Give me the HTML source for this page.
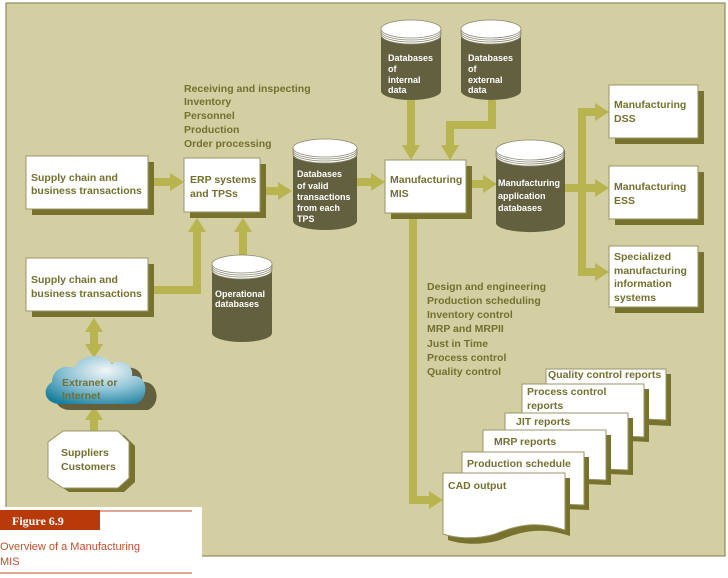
<!DOCTYPE html>
<html><head><meta charset="utf-8"><style>
html,body{margin:0;padding:0;background:#fff;}
svg{display:block;font-family:"Liberation Sans",sans-serif;font-weight:bold;}
.t{fill:#737030;font-size:10.5px;}
.w{fill:#fff;font-size:9px;}
.a{fill:#b8b44f;}
</style></head><body>
<svg width="728" height="578" viewBox="0 0 728 578" xmlns="http://www.w3.org/2000/svg">
<defs>
<radialGradient id="cg" cx="0.6" cy="0.3" r="0.8">
<stop offset="0" stop-color="#f2f6f7"/><stop offset="0.5" stop-color="#8fc4d6"/><stop offset="1" stop-color="#1a7f9e"/>
</radialGradient>
</defs>
<rect x="6" y="3" width="719" height="553" fill="#d4cfa2" stroke="#8e8a60" stroke-width="1.2"/>

<!-- arrows -->
<g class="a">
<rect x="152" y="178" width="20" height="8"/><polygon points="170,173 184,182 170,191"/>
<rect x="266" y="187" width="14" height="8"/><polygon points="278,182 292,191 278,200"/>
<rect x="357" y="178" width="16" height="8"/><polygon points="371,173 385,182 371,191"/>
<rect x="470" y="180" width="15" height="8"/><polygon points="483,175 497,184 483,193"/>
<rect x="563" y="184" width="20" height="8"/>
<rect x="578" y="108" width="8" height="168"/>
<rect x="582" y="108" width="15" height="8"/><polygon points="595,103 609,112 595,121"/>
<rect x="582" y="184" width="15" height="8"/><polygon points="595,179 609,188 595,197"/>
<rect x="582" y="268" width="15" height="8"/><polygon points="595,263 609,272 595,281"/>
<rect x="407" y="100" width="8" height="47"/><polygon points="402,145 411,160 420,145"/>
<rect x="488" y="100" width="8" height="29"/><rect x="446" y="121" width="50" height="8"/><rect x="446" y="121" width="8" height="26"/><polygon points="441,145 450,160 459,145"/>
<rect x="409" y="213" width="8" height="291"/><rect x="409" y="496" width="22" height="8"/><polygon points="429,491 443,500 429,509"/>
<rect x="148" y="286" width="53" height="8"/><rect x="193" y="230" width="8" height="64"/><polygon points="188,232 197,218 206,232"/>
<rect x="239" y="230" width="8" height="30"/><polygon points="234,232 243,218 252,232"/><polygon points="234,258 243,272 252,258"/>
<rect x="90" y="330" width="8" height="16"/><polygon points="85,332 94,318 103,332"/><polygon points="85,344 94,358 103,344"/>
<rect x="90" y="418" width="8" height="14"/><polygon points="85,420 94,406 103,420"/>
</g>

<!-- boxes -->
<g>
<rect x="32" y="162" width="122" height="53" fill="#77722e"/><rect x="26" y="156" width="122" height="53" fill="#fff" stroke="#9a9668"/>
<text class="t" x="31" y="181">Supply chain and</text><text class="t" x="31" y="194">business transactions</text>
<rect x="32" y="264" width="122" height="53" fill="#77722e"/><rect x="26" y="258" width="122" height="53" fill="#fff" stroke="#9a9668"/>
<text class="t" x="31" y="283">Supply chain and</text><text class="t" x="31" y="297">business transactions</text>
<rect x="190" y="164" width="76" height="54" fill="#77722e"/><rect x="184" y="158" width="76" height="54" fill="#fff" stroke="#9a9668"/>
<text class="t" x="190" y="183">ERP systems</text><text class="t" x="190" y="197">and TPSs</text>
<rect x="391" y="166" width="81" height="53" fill="#77722e"/><rect x="385" y="160" width="81" height="53" fill="#fff" stroke="#9a9668"/>
<text class="t" x="390" y="183">Manufacturing</text><text class="t" x="390" y="197">MIS</text>
<rect x="615" y="91" width="89" height="53" fill="#77722e"/><rect x="609" y="85" width="89" height="53" fill="#fff" stroke="#9a9668"/>
<text class="t" x="614" y="108">Manufacturing</text><text class="t" x="614" y="122">DSS</text>
<rect x="615" y="172" width="89" height="53" fill="#77722e"/><rect x="609" y="166" width="89" height="53" fill="#fff" stroke="#9a9668"/>
<text class="t" x="614" y="190">Manufacturing</text><text class="t" x="614" y="204">ESS</text>
<rect x="615" y="252" width="89" height="61" fill="#77722e"/><rect x="609" y="246" width="89" height="61" fill="#fff" stroke="#9a9668"/>
<text class="t" x="614" y="260">Specialized</text><text class="t" x="614" y="274">manufacturing</text><text class="t" x="614" y="287">information</text><text class="t" x="614" y="301">systems</text>
</g>

<!-- cylinders -->
<g stroke="#8a8770" stroke-width="0.8">
<path d="M293,148 V221 A32,9 0 0 0 357,221 V148 Z" fill="#636040" stroke="none"/>
<ellipse cx="325" cy="154" rx="32" ry="9" fill="#fff"/><ellipse cx="325" cy="152" rx="32" ry="9" fill="#fff"/><ellipse cx="325" cy="150" rx="32" ry="9" fill="#fff"/><ellipse cx="325" cy="148" rx="32" ry="9" fill="#fff"/>
<path d="M212,264 V333 A30,9 0 0 0 272,333 V264 Z" fill="#636040" stroke="none"/>
<ellipse cx="242" cy="270" rx="30" ry="9" fill="#fff"/><ellipse cx="242" cy="268" rx="30" ry="9" fill="#fff"/><ellipse cx="242" cy="266" rx="30" ry="9" fill="#fff"/><ellipse cx="242" cy="264" rx="30" ry="9" fill="#fff"/>
<path d="M381,29 V91 A30,9 0 0 0 441,91 V29 Z" fill="#636040" stroke="none"/>
<ellipse cx="411" cy="35" rx="30" ry="9" fill="#fff"/><ellipse cx="411" cy="33" rx="30" ry="9" fill="#fff"/><ellipse cx="411" cy="31" rx="30" ry="9" fill="#fff"/><ellipse cx="411" cy="29" rx="30" ry="9" fill="#fff"/>
<path d="M461,29 V91 A30,9 0 0 0 521,91 V29 Z" fill="#636040" stroke="none"/>
<ellipse cx="491" cy="35" rx="30" ry="9" fill="#fff"/><ellipse cx="491" cy="33" rx="30" ry="9" fill="#fff"/><ellipse cx="491" cy="31" rx="30" ry="9" fill="#fff"/><ellipse cx="491" cy="29" rx="30" ry="9" fill="#fff"/>
<path d="M496,150 V223 A34,9 0 0 0 565,223 V150 Z" fill="#636040" stroke="none"/>
<ellipse cx="530" cy="156" rx="34" ry="10" fill="#fff"/><ellipse cx="530" cy="154" rx="34" ry="10" fill="#fff"/><ellipse cx="530" cy="152" rx="34" ry="10" fill="#fff"/><ellipse cx="530" cy="150" rx="34" ry="10" fill="#fff"/>
</g>
<g class="w">
<text x="297" y="177">Databases</text><text x="297" y="189">of valid</text><text x="297" y="200">transactions</text><text x="297" y="211">from each</text><text x="297" y="222">TPS</text>
<text x="215" y="297">Operational</text><text x="215" y="307">databases</text>
<text x="388" y="61">Databases</text><text x="388" y="72">of</text><text x="388" y="83">internal</text><text x="388" y="93">data</text>
<text x="468" y="61">Databases</text><text x="468" y="72">of</text><text x="468" y="83">external</text><text x="468" y="93">data</text>
<text x="498" y="186">Manufacturing</text><text x="498" y="199">application</text><text x="498" y="211">databases</text>
</g>

<!-- lists -->
<g class="t">
<text x="184" y="92">Receiving and inspecting</text><text x="184" y="105">Inventory</text><text x="184" y="119">Personnel</text><text x="184" y="133">Production</text><text x="184" y="147">Order processing</text>
<text x="427" y="290">Design and engineering</text><text x="427" y="304">Production scheduling</text><text x="427" y="318">Inventory control</text><text x="427" y="332">MRP and MRPII</text><text x="427" y="347">Just in Time</text><text x="427" y="361">Process control</text><text x="427" y="375">Quality control</text>
</g>

<!-- cloud -->
<path d="M60,406 C46,406 40,392 52,384 C52,372 64,366 74,370 C80,356 104,354 112,366 C120,360 134,366 132,378 C148,376 152,400 138,406 Z" fill="#636040" transform="translate(10,4)"/>
<path d="M60,404 C46,404 40,390 52,382 C52,370 64,364 74,368 C80,354 104,352 112,364 C120,358 134,364 132,376 C148,374 150,398 136,404 Z" fill="url(#cg)"/>
<text class="t" x="62" y="386">Extranet or</text><text class="t" x="62" y="399">Internet</text>

<!-- octagon -->
<polygon points="69,435 124,435 135,446 135,482 124,492 69,492 54,482 54,446" fill="#77722e"/>
<polygon points="63,431 118,431 129,442 129,478 118,488 63,488 48,478 48,442" fill="#fff" stroke="#9a9668"/>
<text class="t" x="61" y="456">Suppliers</text><text class="t" x="61" y="470">Customers</text>

<!-- reports -->
<g stroke="#9a9668" stroke-width="1">
<polygon points="551,374 671,374 671,426 551,420" fill="#77722e" stroke="none"/><polygon points="546,369 666,369 666,420 546,414" fill="#fff"/>
<polygon points="527,389 649,389 649,442 527,436" fill="#77722e" stroke="none"/><polygon points="522,384 644,384 644,437 522,431" fill="#fff"/>
<polygon points="510,418 633,418 633,475 510,470" fill="#77722e" stroke="none"/><polygon points="505,413 628,413 628,470 505,465" fill="#fff"/>
<polygon points="488,435 611,435 611,485 488,480" fill="#77722e" stroke="none"/><polygon points="483,430 606,430 606,480 483,475" fill="#fff"/>
<polygon points="467,457 589,457 589,510 467,505" fill="#77722e" stroke="none"/><polygon points="462,452 584,452 584,505 462,500" fill="#fff"/>
<path d="M448,478 H570 V536 C540,526 520,532 500,540 C480,546 460,544 448,540 Z" fill="#77722e" stroke="none"/>
<path d="M443,473 H565 V530 C535,520 515,526 495,534 C475,540 455,538 443,534 Z" fill="#fff"/>
</g>
<g class="t">
<text x="548" y="378">Quality control reports</text>
<text x="527" y="395">Process control</text><text x="527" y="409">reports</text>
<text x="516" y="425">JIT reports</text>
<text x="494" y="445">MRP reports</text>
<text x="467" y="467">Production schedule</text>
<text x="448" y="489">CAD output</text>
</g>

<!-- figure label -->
<rect x="0" y="507" width="202" height="71" fill="#fff"/>
<rect x="0" y="510" width="100" height="20" fill="#b83a0a"/>
<line x1="100" y1="511" x2="192" y2="511" stroke="#c0502a" stroke-width="1"/>
<text x="12" y="525" fill="#fff" style="font-family:'Liberation Serif',serif;font-size:12px;font-weight:bold">Figure 6.9</text>
<text x="0" y="550" fill="#c0502a" style="font-size:11px;font-weight:normal">Overview of a Manufacturing</text>
<text x="0" y="565" fill="#c0502a" style="font-size:11px;font-weight:normal">MIS</text>
<line x1="0" y1="573" x2="192" y2="573" stroke="#c0502a" stroke-width="1"/>
</svg>
</body></html>
